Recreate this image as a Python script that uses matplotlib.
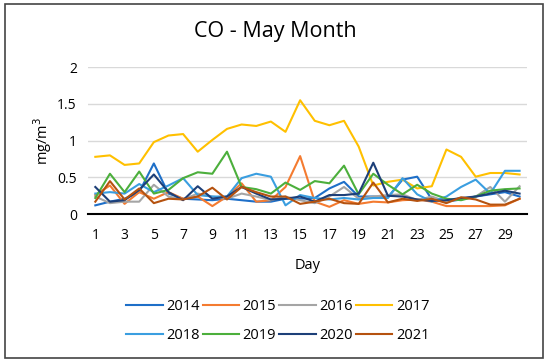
"""
CO - May Month: daily CO concentration, one line per year (2014-2021)
"""

import matplotlib.pyplot as plt
from matplotlib.patches import Rectangle

plt.rcParams['font.family'] = ['Open Sans', 'DejaVu Sans']
plt.rcParams['font.size'] = 9

days = list(range(1, 31))
years = ['2014', '2015', '2016', '2017', '2018', '2019', '2020', '2021']

co_2014 = [0.12, 0.17, 0.21, 0.30, 0.69, 0.28, 0.21, 0.20, 0.19, 0.21, 0.19, 0.17, 0.17, 0.21, 0.21,
           0.22, 0.35, 0.44, 0.24, 0.24, 0.23, 0.47, 0.51, 0.20, 0.17, 0.20, 0.24, 0.27, 0.30, 0.24]
co_2015 = [0.26, 0.39, 0.14, 0.30, 0.21, 0.30, 0.21, 0.24, 0.11, 0.24, 0.42, 0.17, 0.19, 0.37, 0.79,
           0.17, 0.10, 0.19, 0.14, 0.17, 0.16, 0.19, 0.20, 0.17, 0.11, 0.11, 0.11, 0.11, 0.12, 0.21]
co_2016 = [0.24, 0.15, 0.17, 0.17, 0.40, 0.24, 0.20, 0.28, 0.24, 0.21, 0.28, 0.24, 0.19, 0.24, 0.19,
           0.15, 0.24, 0.37, 0.21, 0.24, 0.26, 0.27, 0.19, 0.24, 0.17, 0.21, 0.24, 0.37, 0.17, 0.38]
co_2017 = [0.78, 0.80, 0.67, 0.69, 0.98, 1.07, 1.09, 0.85, 1.01, 1.16, 1.22, 1.20, 1.26, 1.12, 1.55,
           1.27, 1.21, 1.27, 0.92, 0.39, 0.44, 0.47, 0.35, 0.38, 0.88, 0.78, 0.51, 0.56, 0.56, 0.54]
co_2018 = [0.28, 0.30, 0.28, 0.41, 0.30, 0.39, 0.49, 0.26, 0.24, 0.24, 0.49, 0.55, 0.51, 0.12, 0.26,
           0.22, 0.20, 0.22, 0.20, 0.22, 0.22, 0.49, 0.27, 0.17, 0.24, 0.37, 0.47, 0.28, 0.59, 0.59]
co_2019 = [0.22, 0.55, 0.30, 0.58, 0.28, 0.33, 0.49, 0.57, 0.55, 0.85, 0.37, 0.34, 0.28, 0.43, 0.33,
           0.45, 0.42, 0.66, 0.27, 0.55, 0.40, 0.27, 0.40, 0.28, 0.21, 0.19, 0.24, 0.32, 0.34, 0.35]
co_2020 = [0.37, 0.17, 0.19, 0.33, 0.54, 0.30, 0.19, 0.38, 0.21, 0.24, 0.37, 0.28, 0.20, 0.21, 0.24,
           0.17, 0.26, 0.26, 0.28, 0.70, 0.25, 0.24, 0.20, 0.18, 0.19, 0.22, 0.24, 0.28, 0.32, 0.28]
co_2021 = [0.17, 0.45, 0.20, 0.35, 0.15, 0.21, 0.20, 0.24, 0.36, 0.20, 0.37, 0.30, 0.24, 0.24, 0.14,
           0.17, 0.21, 0.15, 0.14, 0.43, 0.16, 0.21, 0.18, 0.21, 0.15, 0.23, 0.20, 0.13, 0.13, 0.21]

series = [co_2014, co_2015, co_2016, co_2017, co_2018, co_2019, co_2020, co_2021]
colors = ['#1E6FC8', '#F47B30', '#A5A5A5', '#FFC000', '#3A9EE0', '#4CAF3C', '#1D3F78', '#B5520F']

fig = plt.figure(figsize=(5.5, 3.63), dpi=100)
ax = fig.add_axes([0.16, 0.41, 0.798, 0.405])

lines = []
for yr, vals, col in zip(years, series, colors):
    ln, = ax.plot(days, vals, color=col, linewidth=1.5, label=yr)
    lines.append(ln)

ax.set_xlim(0.5, 30.5)
ax.set_ylim(0, 2)
ax.set_yticks([0, 0.5, 1, 1.5, 2])
ax.set_yticklabels(['0', '0.5', '1', '1.5', '2'])
ax.set_xticks(range(1, 30, 2))
ax.tick_params(axis='x', length=0, labelsize=10, pad=10)
ax.tick_params(axis='y', length=0, labelsize=10, pad=8)
ax.grid(axis='y', color='#D9D9D9', linewidth=1)
ax.set_axisbelow(True)
for s in ['top', 'right', 'left']:
    ax.spines[s].set_visible(False)
ax.spines['bottom'].set_color('black')
ax.spines['bottom'].set_linewidth(1.5)

ax.set_xlabel('Day', fontsize=10.5, labelpad=11)
ax.set_ylabel('mg/m$^3$', fontsize=10.5, labelpad=2)
fig.text(0.5, 1 - 32 / 363, 'CO - May Month', fontsize=15.5, ha='center', va='center')

# legend: two rows of four, filled column by column
order = [0, 4, 1, 5, 2, 6, 3, 7]
fig.legend([lines[i] for i in order], [years[i] for i in order],
           ncol=4, loc='center', bbox_to_anchor=(0.505, 1 - 321 / 363),
           frameon=False, fontsize=10.5, handlelength=2.5, handletextpad=0.25,
           columnspacing=0.2, labelspacing=1.0)

# outer border
fig.patches.append(Rectangle((0.009, 0.014), 0.978, 0.975, transform=fig.transFigure,
                             fill=False, edgecolor='#444444', linewidth=1.2))

plt.savefig('out.png', dpi=100, facecolor='white')
plt.close()
